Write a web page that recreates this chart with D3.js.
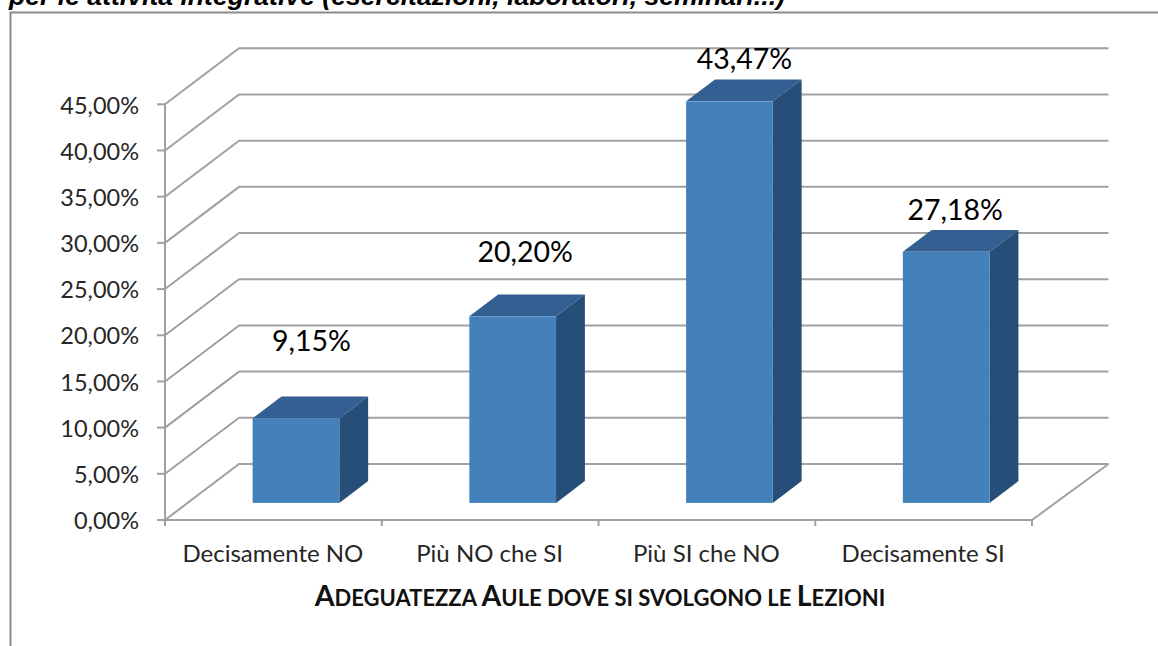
<!DOCTYPE html>
<html><head><meta charset="utf-8">
<script src="https://d3js.org/d3.v7.min.js"></script>
<style>html,body{margin:0;padding:0;background:#fff;overflow:hidden}svg{display:block}</style>
</head><body><svg id="c" width="1158" height="646"></svg>
<script>
const categories = ["Decisamente NO","Più NO che SI","Più SI che NO","Decisamente SI"];
const values = [9.15,20.20,43.47,27.18];
const valueLabels = ["9,15%","20,20%","43,47%","27,18%"];
const yTicks = [0,5,10,15,20,25,30,35,40,45];
const titleText = "per le attività integrative (esercitazioni, laboratori, seminari...)";
const labelDx = [15.5,12.5,15,9];
const labelGap = [67,54,32,32];

const svg = d3.select("#c");
const font = "Lato, 'Open Sans', sans-serif";
const grid = "#a0a0a0";

const x = d3.scaleBand().domain(categories).range([165,1032]);
const y = d3.scaleLinear().domain([0,45]).range([520,104.3]);
const zx = d3.scaleLinear().domain([0,1]).range([0,74]);
const zy = d3.scaleLinear().domain([0,1]).range([0,-56]);
const backRight = 1108.5;

// frame
svg.append("path").attr("d","M10.5,646V12.5H1158").attr("fill","none").attr("stroke","#8c8c8c").attr("stroke-width",2);
svg.append("text").attr("x",9).attr("y",5).attr("font-family","'Liberation Sans',Arial,sans-serif")
  .attr("font-weight",700).attr("font-style","italic").attr("font-size",26.6).attr("fill","#000").text(titleText);

// gridlines
const gl = svg.append("g").attr("fill","none").attr("stroke",grid).attr("stroke-width",2).attr("stroke-linejoin","bevel");
gl.selectAll("path.g").data(yTicks).join("path").attr("class","g")
  .attr("d",d=>d===0
    ? `M${x.range()[0]},${y(0)}L${x.range()[0]+zx(1)},${y(0)+zy(1)}H${backRight}L${x.range()[1]},${y(0)}`
    : `M${x.range()[0]},${y(d)}L${x.range()[0]+zx(1)},${y(d)+zy(1)}H${backRight}`);

// axes
const ax = svg.append("g").attr("stroke",grid).attr("stroke-width",2).attr("fill","none");
ax.append("path").attr("d",`M${x.range()[0]},${y(45)}V${y(0)}H${x.range()[1]}`);
ax.selectAll("line.t").data(yTicks).join("line").attr("class","t")
  .attr("x1",x.range()[0]-8).attr("x2",x.range()[0]).attr("y1",d=>y(d)).attr("y2",d=>y(d));
const xEdges = categories.map(c=>x(c)).concat([x.range()[1]]);
ax.selectAll("line.x").data(xEdges).join("line").attr("class","x")
  .attr("x1",d=>d).attr("x2",d=>d).attr("y1",y(0)).attr("y2",y(0)+6);

// tick labels
svg.append("g").selectAll("text").data(yTicks).join("text")
  .attr("x",139).attr("y",d=>y(d)+1).attr("dy","0.35em").attr("text-anchor","end")
  .attr("font-family",font).attr("font-size",23.5).attr("fill","#262626")
  .text(d=>d3.format(".2f")(d).replace(".",",")+"%");
svg.append("g").selectAll("text").data(categories).join("text")
  .attr("x",d=>x(d)+x.bandwidth()/2-0.5).attr("y",562).attr("text-anchor","middle")
  .attr("font-family",font).attr("font-size",24).attr("fill","#262626").text(d=>d);

// bars
const barW = x.bandwidth()/2.5, z0=0.305, z1=0.695;
const bars = svg.append("g").selectAll("g").data(categories).join("g");
const bx = c => x(c)+x.bandwidth()/2-barW/2+zx(z0);
const by0 = y(0)+zy(z0);
const val = i => y(values[i])-y(0);
const dz = {x:zx(z1-z0), y:zy(z1-z0)};
bars.append("path").attr("fill","#345f92").attr("d",(c,i)=>{const X=bx(c),Y=by0+val(i);return `M${X},${Y}l${dz.x},${dz.y}h${barW}l${-dz.x},${-dz.y}Z`});
bars.append("path").attr("fill","#274e79").attr("d",(c,i)=>{const X=bx(c)+barW,Y=by0+val(i);return `M${X},${Y}l${dz.x},${dz.y}V${by0+dz.y}L${X},${by0}Z`});
bars.append("rect").attr("fill","#4481bb").attr("x",c=>bx(c)).attr("width",barW)
  .attr("y",(c,i)=>by0+val(i)).attr("height",(c,i)=>-val(i));

// value labels
svg.append("g").selectAll("text").data(valueLabels).join("text")
  .attr("x",(d,i)=>bx(categories[i])+barW/2+labelDx[i])
  .attr("y",(d,i)=>by0+val(i)-labelGap[i])
  .attr("text-anchor","middle").attr("font-family",font).attr("font-size",28.5).attr("fill","#000").text(d=>d);

// axis title (small caps)
const t = svg.append("text").attr("x",600).attr("y",606).attr("text-anchor","middle")
  .attr("font-family",font).attr("font-weight",700).attr("fill","#111");
[["A",28.5],["DEGUATEZZA ",22],["A",28.5],["ULE DOVE SI SVOLGONO LE ",22],["L",28.5],["EZIONI",22]]
 .forEach(([s,f])=>t.append("tspan").attr("font-size",f).text(s));
</script></body></html>
